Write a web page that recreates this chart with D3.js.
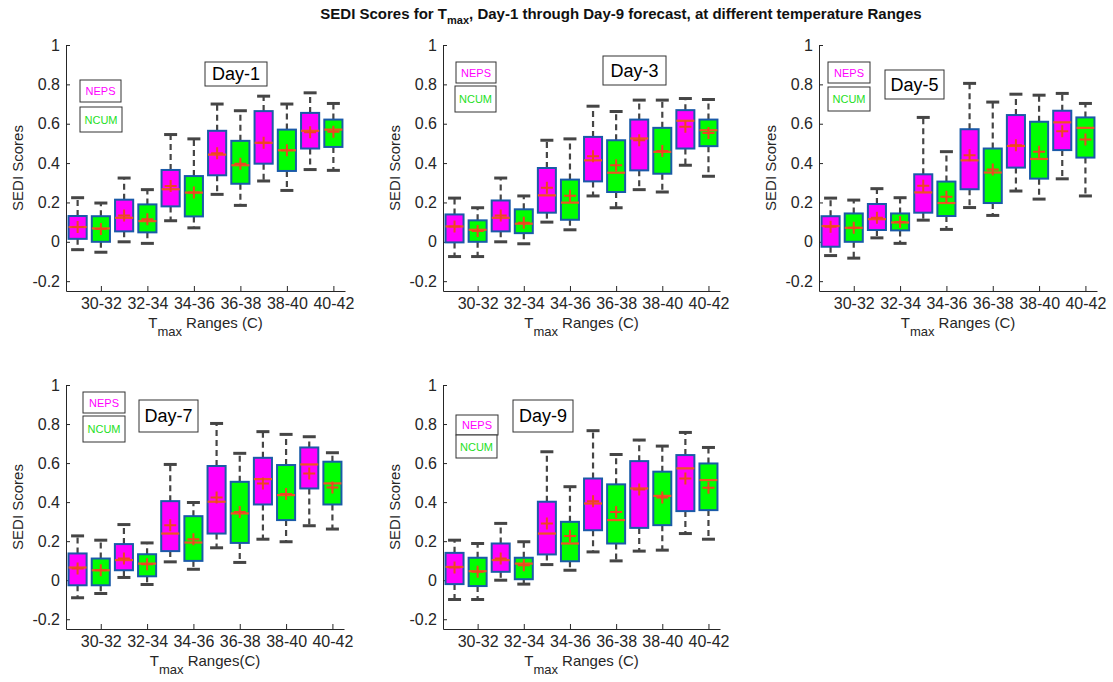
<!DOCTYPE html>
<meta charset="utf-8">
<script src="https://d3js.org/d3.v7.min.js"></script>
<style>
  body { margin: 0; background: #fff; }
  text { font-family: "Liberation Sans", Arial, sans-serif; }
</style>
<body>
<div id="graph"></div>
<script>
  // tick labels and box groups
  var ranges = ["30-32", "32-34", "34-36", "36-38", "38-40", "40-42"];
  var models = ["NEPS", "NCUM"];

  // one row per box (NEPS, NCUM alternating): [lower whisker, q1, median, q3, upper whisker, mean]
  var day1 = [
    [-0.040, 0.015, 0.075, 0.131, 0.224, 0.075],
    [-0.053, 0.000, 0.068, 0.130, 0.197, 0.065],
    [ 0.000, 0.053, 0.122, 0.214, 0.324, 0.134],
    [-0.008, 0.048, 0.105, 0.190, 0.265, 0.114],
    [ 0.107, 0.180, 0.267, 0.365, 0.545, 0.284],
    [ 0.071, 0.129, 0.250, 0.334, 0.523, 0.250],
    [ 0.241, 0.338, 0.443, 0.564, 0.700, 0.450],
    [ 0.185, 0.295, 0.389, 0.513, 0.666, 0.397],
    [ 0.309, 0.397, 0.503, 0.664, 0.740, 0.503],
    [ 0.261, 0.360, 0.465, 0.570, 0.700, 0.465],
    [ 0.367, 0.474, 0.564, 0.655, 0.757, 0.557],
    [ 0.363, 0.482, 0.570, 0.621, 0.703, 0.559]
  ];
  var day3 = [
    [-0.075, -0.003, 0.078, 0.139, 0.222, 0.078],
    [-0.075, 0.000, 0.061, 0.109, 0.173, 0.055],
    [ 0.000, 0.053, 0.122, 0.210, 0.324, 0.134],
    [-0.010, 0.044, 0.092, 0.165, 0.233, 0.097],
    [ 0.100, 0.148, 0.236, 0.375, 0.516, 0.275],
    [ 0.061, 0.112, 0.199, 0.316, 0.523, 0.234],
    [ 0.233, 0.307, 0.414, 0.533, 0.689, 0.435],
    [ 0.173, 0.253, 0.351, 0.516, 0.662, 0.389],
    [ 0.265, 0.363, 0.525, 0.621, 0.720, 0.516],
    [ 0.253, 0.346, 0.457, 0.579, 0.720, 0.462],
    [ 0.389, 0.474, 0.615, 0.669, 0.728, 0.584],
    [ 0.333, 0.486, 0.567, 0.621, 0.723, 0.553]
  ];
  var day5 = [
    [-0.070, -0.025, 0.080, 0.130, 0.222, 0.076],
    [-0.083, 0.000, 0.071, 0.144, 0.212, 0.071],
    [ 0.020, 0.060, 0.115, 0.192, 0.270, 0.122],
    [-0.008, 0.058, 0.098, 0.144, 0.224, 0.100],
    [ 0.110, 0.148, 0.251, 0.343, 0.632, 0.285],
    [ 0.063, 0.131, 0.197, 0.306, 0.458, 0.229],
    [ 0.174, 0.267, 0.414, 0.572, 0.805, 0.440],
    [ 0.134, 0.197, 0.352, 0.474, 0.710, 0.367],
    [ 0.258, 0.377, 0.487, 0.644, 0.750, 0.490],
    [ 0.217, 0.321, 0.421, 0.610, 0.745, 0.457],
    [ 0.320, 0.466, 0.607, 0.666, 0.754, 0.562],
    [ 0.233, 0.428, 0.579, 0.632, 0.703, 0.520]
  ];
  var day7 = [
    [-0.090, -0.026, 0.065, 0.137, 0.227, 0.060],
    [-0.068, -0.026, 0.051, 0.111, 0.205, 0.051],
    [ 0.014, 0.051, 0.103, 0.185, 0.285, 0.111],
    [-0.022, 0.020, 0.085, 0.133, 0.191, 0.082],
    [ 0.094, 0.149, 0.239, 0.405, 0.593, 0.282],
    [ 0.056, 0.099, 0.193, 0.328, 0.398, 0.210],
    [ 0.166, 0.239, 0.402, 0.585, 0.803, 0.424],
    [ 0.091, 0.191, 0.342, 0.504, 0.650, 0.350],
    [ 0.210, 0.388, 0.518, 0.627, 0.761, 0.496],
    [ 0.197, 0.308, 0.436, 0.590, 0.747, 0.441],
    [ 0.279, 0.470, 0.593, 0.680, 0.735, 0.547],
    [ 0.262, 0.388, 0.496, 0.607, 0.653, 0.475]
  ];
  var day9 = [
    [-0.099, -0.020, 0.068, 0.140, 0.205, 0.065],
    [-0.099, -0.030, 0.046, 0.115, 0.188, 0.043],
    [ 0.000, 0.043, 0.103, 0.188, 0.291, 0.111],
    [-0.020, 0.005, 0.085, 0.115, 0.197, 0.077],
    [ 0.080, 0.132, 0.239, 0.402, 0.658, 0.291],
    [ 0.051, 0.097, 0.188, 0.299, 0.479, 0.226],
    [ 0.145, 0.256, 0.393, 0.521, 0.766, 0.405],
    [ 0.099, 0.188, 0.308, 0.491, 0.644, 0.350],
    [ 0.149, 0.268, 0.470, 0.610, 0.718, 0.465],
    [ 0.154, 0.282, 0.432, 0.556, 0.687, 0.424],
    [ 0.239, 0.354, 0.573, 0.641, 0.757, 0.521],
    [ 0.210, 0.359, 0.513, 0.598, 0.680, 0.474]
  ];
  var yTicks = [-0.2, 0, 0.2, 0.4, 0.6, 0.8, 1];

  // panel layout (pixels); legend / day boxes are offsets from the axes corner
  var panels = [
    { day: "Day-1", data: day1, left: 66,  top: 45,  w: 279, h: 246, xlab: " Ranges (C)",
      neps: [14, 35, 41, 22], ncum: [14, 62, 42, 25], tag: [139, 17, 62, 24] },
    { day: "Day-3", data: day3, left: 443, top: 45,  w: 277, h: 246, xlab: " Ranges (C)",
      neps: [13, 17, 40, 21], ncum: [12, 41, 41, 26], tag: [160, 11, 63, 29] },
    { day: "Day-5", data: day5, left: 819, top: 45,  w: 278, h: 246, xlab: " Ranges (C)",
      neps: [9, 17, 42, 21],  ncum: [9, 42, 42, 24],  tag: [66, 25, 59, 29] },
    { day: "Day-7", data: day7, left: 66,  top: 385, w: 278, h: 244, xlab: " Ranges(C)",
      neps: [17, 7, 42, 21],  ncum: [17, 31, 42, 26], tag: [73, 15, 59, 32] },
    { day: "Day-9", data: day9, left: 443, top: 385, w: 277, h: 244, xlab: " Ranges (C)",
      neps: [13, 30, 42, 20], ncum: [13, 50, 41, 23], tag: [70, 15, 60, 32] }
  ];

  var fills = { NEPS: "#ff00ff", NCUM: "#00ff00" };
  var textCols = { NEPS: "#ff00ff", NCUM: "#1ee01e" };
  var axisCol = "#262626";

  var svg = d3.select("#graph")
    .append("svg")
    .attr("width", 1113)
    .attr("height", 682);

  // main title
  var title = svg.append("text")
    .attr("x", 621)
    .attr("y", 19)
    .attr("text-anchor", "middle")
    .style("font-size", "15px")
    .style("font-weight", "bold")
    .attr("fill", "#111");
  title.append("tspan").text("SEDI Scores for T");
  title.append("tspan").attr("dy", 5).style("font-size", "11px").text("max");
  title.append("tspan").attr("dy", -5).text(", Day-1 through Day-9 forecast, at different temperature Ranges");

  panels.forEach(function (p) {
    var g = svg.append("g")
      .attr("transform", "translate(" + p.left + "," + p.top + ")");

    var x = d3.scaleLinear().domain([0.5, 12.5]).range([0, p.w]);
    var y = d3.scaleLinear().domain([-0.25, 1]).range([p.h, 0]);
    var bw = x(0.78) - x(0);

    // axes (matlab style, ticks pointing in, no box)
    var xAxis = d3.axisBottom(x)
      .tickValues([2, 4, 6, 8, 10, 12])
      .tickFormat(function (d, i) { return ranges[i]; })
      .tickSizeInner(-5)
      .tickSizeOuter(0)
      .tickPadding(7);
    var yAxis = d3.axisLeft(y)
      .tickValues(yTicks)
      .tickFormat(function (d) { return String(+d.toFixed(1)); })
      .tickSizeInner(-4)
      .tickSizeOuter(0)
      .tickPadding(6);

    var gx = g.append("g").attr("transform", "translate(0," + p.h + ")").call(xAxis);
    var gy = g.append("g").call(yAxis);
    [gx, gy].forEach(function (a) {
      a.select(".domain").attr("stroke", axisCol);
      a.selectAll(".tick line").attr("stroke", axisCol);
      a.selectAll(".tick text")
        .attr("fill", axisCol)
        .style("font-size", "16px")
        .style("font-family", "'Liberation Sans', Arial, sans-serif");
    });

    // y label
    g.append("text")
      .attr("transform", "translate(-43," + (p.h / 2) + ") rotate(-90)")
      .attr("text-anchor", "middle")
      .attr("fill", axisCol)
      .style("font-size", "15px")
      .text("SEDI Scores");

    // x label with subscript
    var xl = g.append("text")
      .attr("x", p.w / 2)
      .attr("y", p.h + 37)
      .attr("text-anchor", "middle")
      .attr("fill", axisCol)
      .style("font-size", "15px");
    xl.append("tspan").text("T");
    xl.append("tspan").attr("dy", 8).style("font-size", "13px").text("max");
    xl.append("tspan").attr("dy", -8).text(p.xlab);

    var boxes = g.selectAll(".box")
      .data(p.data)
      .enter()
      .append("g")
      .attr("class", "box");

    // whiskers
    boxes.append("line")
      .attr("x1", function (d, i) { return x(i + 1); })
      .attr("x2", function (d, i) { return x(i + 1); })
      .attr("y1", function (d) { return y(d[3]); })
      .attr("y2", function (d) { return y(d[4]); })
      .attr("stroke", "#454545").attr("stroke-width", 2.2).attr("stroke-dasharray", "6,4");
    boxes.append("line")
      .attr("x1", function (d, i) { return x(i + 1); })
      .attr("x2", function (d, i) { return x(i + 1); })
      .attr("y1", function (d) { return y(d[1]); })
      .attr("y2", function (d) { return y(d[0]); })
      .attr("stroke", "#454545").attr("stroke-width", 2.2).attr("stroke-dasharray", "6,4");

    // caps
    [0, 4].forEach(function (k) {
      boxes.append("line")
        .attr("x1", function (d, i) { return x(i + 1) - 6.5; })
        .attr("x2", function (d, i) { return x(i + 1) + 6.5; })
        .attr("y1", function (d) { return y(d[k]); })
        .attr("y2", function (d) { return y(d[k]); })
        .attr("stroke", "#454545").attr("stroke-width", 3);
    });

    // boxes
    boxes.append("rect")
      .attr("x", function (d, i) { return x(i + 1) - bw / 2; })
      .attr("width", bw)
      .attr("y", function (d) { return y(d[3]); })
      .attr("height", function (d) { return y(d[1]) - y(d[3]); })
      .attr("fill", function (d, i) { return fills[models[i % 2]]; })
      .attr("stroke", "#1a5aa8")
      .attr("stroke-width", 2);

    // median
    boxes.append("line")
      .attr("x1", function (d, i) { return x(i + 1) - bw / 2; })
      .attr("x2", function (d, i) { return x(i + 1) + bw / 2; })
      .attr("y1", function (d) { return y(d[2]); })
      .attr("y2", function (d) { return y(d[2]); })
      .attr("stroke", "#ee5522").attr("stroke-width", 2.2);

    // mean marker (+)
    boxes.append("path")
      .attr("transform", function (d, i) { return "translate(" + x(i + 1) + "," + y(d[5]) + ")"; })
      .attr("d", "M-6,0H6M0,-6V6")
      .attr("stroke", "#ee4422")
      .attr("stroke-width", 2)
      .attr("fill", "none");

    // NEPS / NCUM labels
    [["NEPS", p.neps], ["NCUM", p.ncum]].forEach(function (m) {
      var b = m[1];
      g.append("rect")
        .attr("x", b[0]).attr("y", b[1]).attr("width", b[2]).attr("height", b[3])
        .attr("fill", "#fff").attr("stroke", "#333").attr("stroke-width", 1);
      g.append("text")
        .attr("x", b[0] + b[2] / 2).attr("y", b[1] + b[3] / 2 + 4)
        .attr("text-anchor", "middle")
        .attr("fill", textCols[m[0]])
        .style("font-size", "11px")
        .text(m[0]);
    });

    // day tag
    var t = p.tag;
    g.append("rect")
      .attr("x", t[0]).attr("y", t[1]).attr("width", t[2]).attr("height", t[3])
      .attr("fill", "#fff").attr("stroke", "#333").attr("stroke-width", 1);
    g.append("text")
      .attr("x", t[0] + t[2] / 2).attr("y", t[1] + t[3] / 2 + 6)
      .attr("text-anchor", "middle")
      .attr("fill", "#000")
      .style("font-size", "18px")
      .text(p.day);
  });
</script>
</body>
